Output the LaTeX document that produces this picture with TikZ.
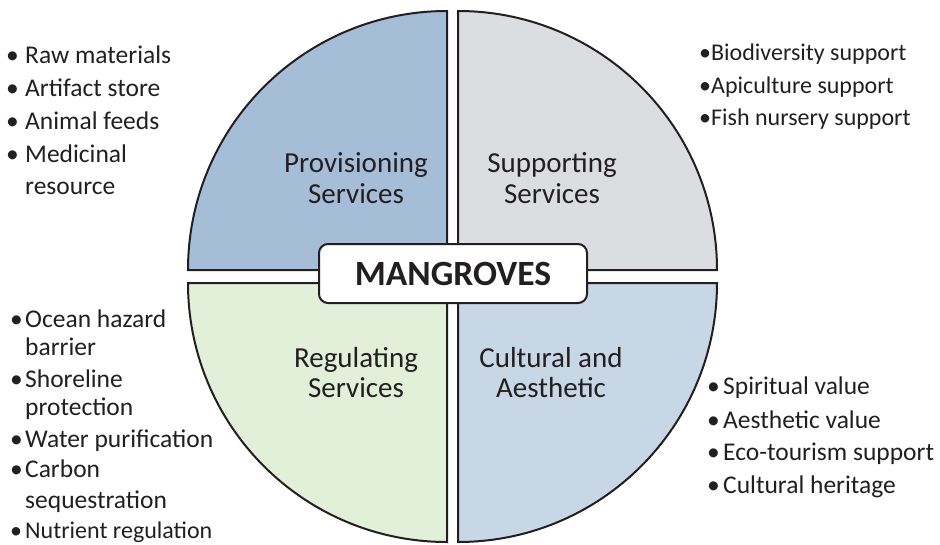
\documentclass[tikz,border=0pt]{standalone}
\usepackage{fontspec}
\setmainfont{Carlito}
\definecolor{qTL}{HTML}{A6BDD7}
\definecolor{qTR}{HTML}{DCDDE0}
\definecolor{qBL}{HTML}{E2EFD9}
\definecolor{qBR}{HTML}{C8D7E5}
\definecolor{ink}{HTML}{231F20}
\tikzset{
  quad/.style={draw=ink, line width=2pt},
  qlabel/.style={font=\fontsize{29}{31}\selectfont, text=ink, inner sep=0pt, anchor=base},
  itm/.style={font=\fontsize{25.5}{28}\selectfont, text=ink, inner sep=0pt, anchor=base west},
  itmsmall/.style={itm, font=\fontsize{24}{28}\selectfont},
  hub/.style={draw=ink, fill=white, line width=2pt, rounded corners=9pt, minimum width=268pt, minimum height=59pt, inner sep=0pt, font=\fontsize{35.5}{38}\selectfont\bfseries, text=ink}
}
\newcommand{\bul}[1]{\makebox[#1][l]{•}}
\begin{document}
\begin{tikzpicture}[x=1pt,y=1pt]
\useasboundingbox (0,0) rectangle (940,-544);
% quadrants
\filldraw[quad, fill=qTL] (447,-270) -- (188,-270) arc[start angle=180, end angle=90, radius=259] -- cycle;
\filldraw[quad, fill=qTR] (458,-270) -- (458,-11) arc[start angle=90, end angle=0, radius=259] -- cycle;
\filldraw[quad, fill=qBL] (447,-283) -- (188,-283) arc[start angle=180, end angle=270, radius=259] -- cycle;
\filldraw[quad, fill=qBR] (458,-283) -- (458,-542) arc[start angle=270, end angle=360, radius=259] -- cycle;
% hub
\node[hub] (hub) at (453,-273.5) {MANGROVES};
% quadrant labels
\node[qlabel] (p1) at (356,-172) {Provisioning};
\node[qlabel] (p2) at (356,-203) {Services};
\node[qlabel] (s1) at (552,-172) {Supporting};
\node[qlabel] (s2) at (552,-203) {Services};
\node[qlabel] (r1) at (356,-367) {Regulating};
\node[qlabel] (r2) at (356,-397) {Services};
\node[qlabel] (c1) at (551,-367) {Cultural and};
\node[qlabel] (c2) at (551,-397) {Aesthetic};
% top-left list
\node[itm] (a1) at (6,-63) {\bul{19pt}Raw materials};
\node[itm] (a2) at (6,-96) {\bul{19pt}Artifact store};
\node[itm] (a3) at (6,-129) {\bul{19pt}Animal feeds};
\node[itm] (a4) at (6,-162) {\bul{19pt}Medicinal};
\node[itm] (a5) at (25,-194) {resource};
% top-right list
\node[itmsmall] (b1) at (699,-60) {\bul{12pt}Biodiversity support};
\node[itmsmall] (b2) at (699,-93) {\bul{12pt}Apiculture support};
\node[itmsmall] (b3) at (699,-125) {\bul{12pt}Fish nursery support};
% bottom-left list
\node[itm] (d1) at (10,-327) {\bul{15pt}Ocean hazard};
\node[itm] (d2) at (25,-355) {barrier};
\node[itm] (d3) at (10,-387) {\bul{15pt}Shoreline};
\node[itm] (d4) at (25,-415) {protection};
\node[itm] (d5) at (10,-447) {\bul{15pt}Water purification};
\node[itm] (d6) at (10,-477) {\bul{15pt}Carbon};
\node[itm] (d7) at (25,-508) {sequestration};
\node[itmsmall] (d8) at (10,-538) {\bul{15pt}Nutrient regulation};
% bottom-right list
\node[itm] (e1) at (707,-394) {\bul{16pt}Spiritual value};
\node[itm] (e2) at (707,-428) {\bul{16pt}Aesthetic value};
\node[itm] (e3) at (707,-460) {\bul{16pt}Eco-tourism support};
\node[itm] (e4) at (707,-493) {\bul{16pt}Cultural heritage};
\end{tikzpicture}
\end{document}
